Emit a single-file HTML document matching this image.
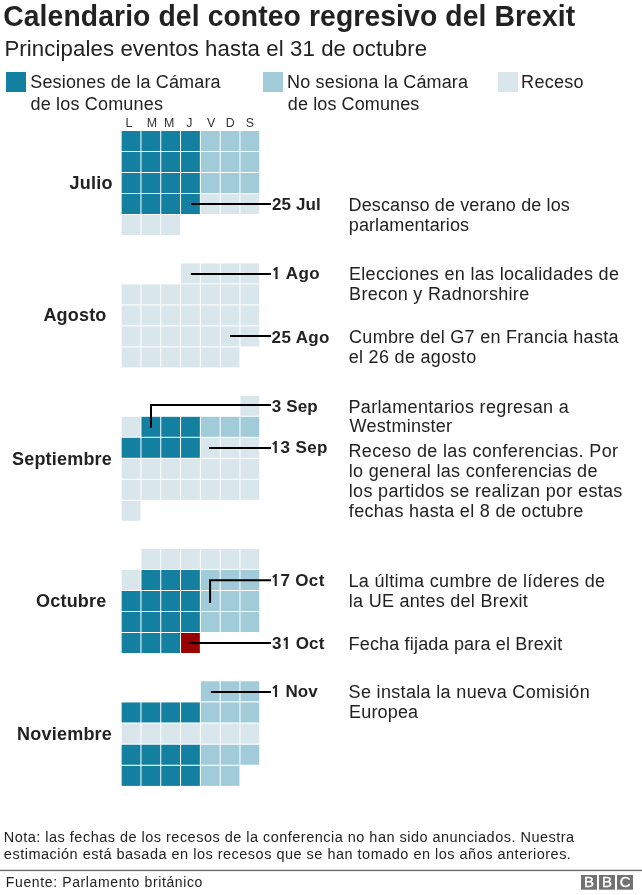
<!DOCTYPE html><html><head><meta charset="utf-8"><title>Calendario del conteo regresivo del Brexit</title><style>html,body{margin:0;padding:0;background:#fff;}svg{display:block;will-change:transform;}text{font-family:"Liberation Sans",Arial,Helvetica,sans-serif;}</style></head><body>
<svg width="642" height="895" viewBox="0 0 642 895">
<rect x="0" y="0" width="642" height="895" fill="#fff"/>
<rect x="6.00" y="72.00" width="20.00" height="20.00" fill="#1380a1"/>
<rect x="263.00" y="72.00" width="20.00" height="20.00" fill="#a1cbd9"/>
<rect x="498.00" y="72.00" width="20.00" height="20.00" fill="#d9e6eb"/>
<rect x="121.65" y="131.00" width="18.80" height="20.00" fill="#1380a1"/>
<rect x="141.45" y="131.00" width="18.80" height="20.00" fill="#1380a1"/>
<rect x="161.25" y="131.00" width="18.80" height="20.00" fill="#1380a1"/>
<rect x="181.05" y="131.00" width="18.80" height="20.00" fill="#1380a1"/>
<rect x="200.85" y="131.00" width="18.80" height="20.00" fill="#a1cbd9"/>
<rect x="220.65" y="131.00" width="18.80" height="20.00" fill="#a1cbd9"/>
<rect x="240.45" y="131.00" width="18.80" height="20.00" fill="#a1cbd9"/>
<rect x="121.65" y="152.00" width="18.80" height="20.00" fill="#1380a1"/>
<rect x="141.45" y="152.00" width="18.80" height="20.00" fill="#1380a1"/>
<rect x="161.25" y="152.00" width="18.80" height="20.00" fill="#1380a1"/>
<rect x="181.05" y="152.00" width="18.80" height="20.00" fill="#1380a1"/>
<rect x="200.85" y="152.00" width="18.80" height="20.00" fill="#a1cbd9"/>
<rect x="220.65" y="152.00" width="18.80" height="20.00" fill="#a1cbd9"/>
<rect x="240.45" y="152.00" width="18.80" height="20.00" fill="#a1cbd9"/>
<rect x="121.65" y="173.00" width="18.80" height="20.00" fill="#1380a1"/>
<rect x="141.45" y="173.00" width="18.80" height="20.00" fill="#1380a1"/>
<rect x="161.25" y="173.00" width="18.80" height="20.00" fill="#1380a1"/>
<rect x="181.05" y="173.00" width="18.80" height="20.00" fill="#1380a1"/>
<rect x="200.85" y="173.00" width="18.80" height="20.00" fill="#a1cbd9"/>
<rect x="220.65" y="173.00" width="18.80" height="20.00" fill="#a1cbd9"/>
<rect x="240.45" y="173.00" width="18.80" height="20.00" fill="#a1cbd9"/>
<rect x="121.65" y="194.00" width="18.80" height="20.00" fill="#1380a1"/>
<rect x="141.45" y="194.00" width="18.80" height="20.00" fill="#1380a1"/>
<rect x="161.25" y="194.00" width="18.80" height="20.00" fill="#1380a1"/>
<rect x="181.05" y="194.00" width="18.80" height="20.00" fill="#1380a1"/>
<rect x="200.85" y="194.00" width="18.80" height="20.00" fill="#d9e6eb"/>
<rect x="220.65" y="194.00" width="18.80" height="20.00" fill="#d9e6eb"/>
<rect x="240.45" y="194.00" width="18.80" height="20.00" fill="#d9e6eb"/>
<rect x="121.65" y="215.00" width="18.80" height="20.00" fill="#d9e6eb"/>
<rect x="141.45" y="215.00" width="18.80" height="20.00" fill="#d9e6eb"/>
<rect x="161.25" y="215.00" width="18.80" height="20.00" fill="#d9e6eb"/>
<rect x="181.05" y="263.40" width="18.80" height="20.00" fill="#d9e6eb"/>
<rect x="200.85" y="263.40" width="18.80" height="20.00" fill="#d9e6eb"/>
<rect x="220.65" y="263.40" width="18.80" height="20.00" fill="#d9e6eb"/>
<rect x="240.45" y="263.40" width="18.80" height="20.00" fill="#d9e6eb"/>
<rect x="121.65" y="284.40" width="18.80" height="20.00" fill="#d9e6eb"/>
<rect x="141.45" y="284.40" width="18.80" height="20.00" fill="#d9e6eb"/>
<rect x="161.25" y="284.40" width="18.80" height="20.00" fill="#d9e6eb"/>
<rect x="181.05" y="284.40" width="18.80" height="20.00" fill="#d9e6eb"/>
<rect x="200.85" y="284.40" width="18.80" height="20.00" fill="#d9e6eb"/>
<rect x="220.65" y="284.40" width="18.80" height="20.00" fill="#d9e6eb"/>
<rect x="240.45" y="284.40" width="18.80" height="20.00" fill="#d9e6eb"/>
<rect x="121.65" y="305.40" width="18.80" height="20.00" fill="#d9e6eb"/>
<rect x="141.45" y="305.40" width="18.80" height="20.00" fill="#d9e6eb"/>
<rect x="161.25" y="305.40" width="18.80" height="20.00" fill="#d9e6eb"/>
<rect x="181.05" y="305.40" width="18.80" height="20.00" fill="#d9e6eb"/>
<rect x="200.85" y="305.40" width="18.80" height="20.00" fill="#d9e6eb"/>
<rect x="220.65" y="305.40" width="18.80" height="20.00" fill="#d9e6eb"/>
<rect x="240.45" y="305.40" width="18.80" height="20.00" fill="#d9e6eb"/>
<rect x="121.65" y="326.40" width="18.80" height="20.00" fill="#d9e6eb"/>
<rect x="141.45" y="326.40" width="18.80" height="20.00" fill="#d9e6eb"/>
<rect x="161.25" y="326.40" width="18.80" height="20.00" fill="#d9e6eb"/>
<rect x="181.05" y="326.40" width="18.80" height="20.00" fill="#d9e6eb"/>
<rect x="200.85" y="326.40" width="18.80" height="20.00" fill="#d9e6eb"/>
<rect x="220.65" y="326.40" width="18.80" height="20.00" fill="#d9e6eb"/>
<rect x="240.45" y="326.40" width="18.80" height="20.00" fill="#d9e6eb"/>
<rect x="121.65" y="347.40" width="18.80" height="20.00" fill="#d9e6eb"/>
<rect x="141.45" y="347.40" width="18.80" height="20.00" fill="#d9e6eb"/>
<rect x="161.25" y="347.40" width="18.80" height="20.00" fill="#d9e6eb"/>
<rect x="181.05" y="347.40" width="18.80" height="20.00" fill="#d9e6eb"/>
<rect x="200.85" y="347.40" width="18.80" height="20.00" fill="#d9e6eb"/>
<rect x="220.65" y="347.40" width="18.80" height="20.00" fill="#d9e6eb"/>
<rect x="240.45" y="395.80" width="18.80" height="20.00" fill="#d9e6eb"/>
<rect x="121.65" y="416.80" width="18.80" height="20.00" fill="#d9e6eb"/>
<rect x="141.45" y="416.80" width="18.80" height="20.00" fill="#1380a1"/>
<rect x="161.25" y="416.80" width="18.80" height="20.00" fill="#1380a1"/>
<rect x="181.05" y="416.80" width="18.80" height="20.00" fill="#1380a1"/>
<rect x="200.85" y="416.80" width="18.80" height="20.00" fill="#a1cbd9"/>
<rect x="220.65" y="416.80" width="18.80" height="20.00" fill="#a1cbd9"/>
<rect x="240.45" y="416.80" width="18.80" height="20.00" fill="#a1cbd9"/>
<rect x="121.65" y="437.80" width="18.80" height="20.00" fill="#1380a1"/>
<rect x="141.45" y="437.80" width="18.80" height="20.00" fill="#1380a1"/>
<rect x="161.25" y="437.80" width="18.80" height="20.00" fill="#1380a1"/>
<rect x="181.05" y="437.80" width="18.80" height="20.00" fill="#1380a1"/>
<rect x="200.85" y="437.80" width="18.80" height="20.00" fill="#d9e6eb"/>
<rect x="220.65" y="437.80" width="18.80" height="20.00" fill="#d9e6eb"/>
<rect x="240.45" y="437.80" width="18.80" height="20.00" fill="#d9e6eb"/>
<rect x="121.65" y="458.80" width="18.80" height="20.00" fill="#d9e6eb"/>
<rect x="141.45" y="458.80" width="18.80" height="20.00" fill="#d9e6eb"/>
<rect x="161.25" y="458.80" width="18.80" height="20.00" fill="#d9e6eb"/>
<rect x="181.05" y="458.80" width="18.80" height="20.00" fill="#d9e6eb"/>
<rect x="200.85" y="458.80" width="18.80" height="20.00" fill="#d9e6eb"/>
<rect x="220.65" y="458.80" width="18.80" height="20.00" fill="#d9e6eb"/>
<rect x="240.45" y="458.80" width="18.80" height="20.00" fill="#d9e6eb"/>
<rect x="121.65" y="479.80" width="18.80" height="20.00" fill="#d9e6eb"/>
<rect x="141.45" y="479.80" width="18.80" height="20.00" fill="#d9e6eb"/>
<rect x="161.25" y="479.80" width="18.80" height="20.00" fill="#d9e6eb"/>
<rect x="181.05" y="479.80" width="18.80" height="20.00" fill="#d9e6eb"/>
<rect x="200.85" y="479.80" width="18.80" height="20.00" fill="#d9e6eb"/>
<rect x="220.65" y="479.80" width="18.80" height="20.00" fill="#d9e6eb"/>
<rect x="240.45" y="479.80" width="18.80" height="20.00" fill="#d9e6eb"/>
<rect x="121.65" y="500.80" width="18.80" height="20.00" fill="#d9e6eb"/>
<rect x="141.45" y="549.00" width="18.80" height="20.00" fill="#d9e6eb"/>
<rect x="161.25" y="549.00" width="18.80" height="20.00" fill="#d9e6eb"/>
<rect x="181.05" y="549.00" width="18.80" height="20.00" fill="#d9e6eb"/>
<rect x="200.85" y="549.00" width="18.80" height="20.00" fill="#d9e6eb"/>
<rect x="220.65" y="549.00" width="18.80" height="20.00" fill="#d9e6eb"/>
<rect x="240.45" y="549.00" width="18.80" height="20.00" fill="#d9e6eb"/>
<rect x="121.65" y="570.00" width="18.80" height="20.00" fill="#d9e6eb"/>
<rect x="141.45" y="570.00" width="18.80" height="20.00" fill="#1380a1"/>
<rect x="161.25" y="570.00" width="18.80" height="20.00" fill="#1380a1"/>
<rect x="181.05" y="570.00" width="18.80" height="20.00" fill="#1380a1"/>
<rect x="200.85" y="570.00" width="18.80" height="20.00" fill="#a1cbd9"/>
<rect x="220.65" y="570.00" width="18.80" height="20.00" fill="#a1cbd9"/>
<rect x="240.45" y="570.00" width="18.80" height="20.00" fill="#a1cbd9"/>
<rect x="121.65" y="591.00" width="18.80" height="20.00" fill="#1380a1"/>
<rect x="141.45" y="591.00" width="18.80" height="20.00" fill="#1380a1"/>
<rect x="161.25" y="591.00" width="18.80" height="20.00" fill="#1380a1"/>
<rect x="181.05" y="591.00" width="18.80" height="20.00" fill="#1380a1"/>
<rect x="200.85" y="591.00" width="18.80" height="20.00" fill="#a1cbd9"/>
<rect x="220.65" y="591.00" width="18.80" height="20.00" fill="#a1cbd9"/>
<rect x="240.45" y="591.00" width="18.80" height="20.00" fill="#a1cbd9"/>
<rect x="121.65" y="612.00" width="18.80" height="20.00" fill="#1380a1"/>
<rect x="141.45" y="612.00" width="18.80" height="20.00" fill="#1380a1"/>
<rect x="161.25" y="612.00" width="18.80" height="20.00" fill="#1380a1"/>
<rect x="181.05" y="612.00" width="18.80" height="20.00" fill="#1380a1"/>
<rect x="200.85" y="612.00" width="18.80" height="20.00" fill="#a1cbd9"/>
<rect x="220.65" y="612.00" width="18.80" height="20.00" fill="#a1cbd9"/>
<rect x="240.45" y="612.00" width="18.80" height="20.00" fill="#a1cbd9"/>
<rect x="121.65" y="633.00" width="18.80" height="20.00" fill="#1380a1"/>
<rect x="141.45" y="633.00" width="18.80" height="20.00" fill="#1380a1"/>
<rect x="161.25" y="633.00" width="18.80" height="20.00" fill="#1380a1"/>
<rect x="181.05" y="633.00" width="18.80" height="20.00" fill="#990000"/>
<rect x="200.85" y="681.30" width="18.80" height="20.00" fill="#a1cbd9"/>
<rect x="220.65" y="681.30" width="18.80" height="20.00" fill="#a1cbd9"/>
<rect x="240.45" y="681.30" width="18.80" height="20.00" fill="#a1cbd9"/>
<rect x="121.65" y="702.45" width="18.80" height="20.00" fill="#1380a1"/>
<rect x="141.45" y="702.45" width="18.80" height="20.00" fill="#1380a1"/>
<rect x="161.25" y="702.45" width="18.80" height="20.00" fill="#1380a1"/>
<rect x="181.05" y="702.45" width="18.80" height="20.00" fill="#1380a1"/>
<rect x="200.85" y="702.45" width="18.80" height="20.00" fill="#a1cbd9"/>
<rect x="220.65" y="702.45" width="18.80" height="20.00" fill="#a1cbd9"/>
<rect x="240.45" y="702.45" width="18.80" height="20.00" fill="#a1cbd9"/>
<rect x="121.65" y="723.60" width="18.80" height="20.00" fill="#d9e6eb"/>
<rect x="141.45" y="723.60" width="18.80" height="20.00" fill="#d9e6eb"/>
<rect x="161.25" y="723.60" width="18.80" height="20.00" fill="#d9e6eb"/>
<rect x="181.05" y="723.60" width="18.80" height="20.00" fill="#d9e6eb"/>
<rect x="200.85" y="723.60" width="18.80" height="20.00" fill="#d9e6eb"/>
<rect x="220.65" y="723.60" width="18.80" height="20.00" fill="#d9e6eb"/>
<rect x="240.45" y="723.60" width="18.80" height="20.00" fill="#d9e6eb"/>
<rect x="121.65" y="744.75" width="18.80" height="20.00" fill="#1380a1"/>
<rect x="141.45" y="744.75" width="18.80" height="20.00" fill="#1380a1"/>
<rect x="161.25" y="744.75" width="18.80" height="20.00" fill="#1380a1"/>
<rect x="181.05" y="744.75" width="18.80" height="20.00" fill="#1380a1"/>
<rect x="200.85" y="744.75" width="18.80" height="20.00" fill="#a1cbd9"/>
<rect x="220.65" y="744.75" width="18.80" height="20.00" fill="#a1cbd9"/>
<rect x="240.45" y="744.75" width="18.80" height="20.00" fill="#a1cbd9"/>
<rect x="121.65" y="765.90" width="18.80" height="20.00" fill="#1380a1"/>
<rect x="141.45" y="765.90" width="18.80" height="20.00" fill="#1380a1"/>
<rect x="161.25" y="765.90" width="18.80" height="20.00" fill="#1380a1"/>
<rect x="181.05" y="765.90" width="18.80" height="20.00" fill="#1380a1"/>
<rect x="200.85" y="765.90" width="18.80" height="20.00" fill="#a1cbd9"/>
<rect x="220.65" y="765.90" width="18.80" height="20.00" fill="#a1cbd9"/>
<polyline points="191.00,203.90 271.00,203.90" fill="none" stroke="#000000" stroke-width="2.00" stroke-linejoin="miter"/>
<polyline points="190.80,274.00 271.00,274.00" fill="none" stroke="#000000" stroke-width="2.00" stroke-linejoin="miter"/>
<polyline points="229.85,335.95 271.00,335.95" fill="none" stroke="#000000" stroke-width="2.00" stroke-linejoin="miter"/>
<polyline points="151.00,427.80 151.00,405.10 271.00,405.10" fill="none" stroke="#000000" stroke-width="2.00" stroke-linejoin="miter"/>
<polyline points="208.90,448.00 271.00,448.00" fill="none" stroke="#000000" stroke-width="2.00" stroke-linejoin="miter"/>
<polyline points="210.10,603.00 210.10,580.20 271.00,580.20" fill="none" stroke="#000000" stroke-width="2.00" stroke-linejoin="miter"/>
<polyline points="188.90,642.90 271.00,642.90" fill="none" stroke="#000000" stroke-width="2.00" stroke-linejoin="miter"/>
<polyline points="210.90,691.90 271.00,691.90" fill="none" stroke="#000000" stroke-width="2.00" stroke-linejoin="miter"/>
<text x="3.24" y="25.70" font-size="28.30" font-weight="bold" fill="#222222" textLength="571.91" lengthAdjust="spacing" transform="matrix(1,0,0,1.0450,0,-1.156)">Calendario del conteo regresivo del Brexit</text>
<text x="4.38" y="56.20" font-size="22.20" fill="#222222" textLength="422.61" lengthAdjust="spacing">Principales eventos hasta el 31 de octubre</text>
<text x="30.28" y="87.80" font-size="18.00" fill="#222222" textLength="190.32" lengthAdjust="spacing">Sesiones de la Cámara</text>
<text x="30.44" y="109.70" font-size="18.00" fill="#222222" textLength="132.51" lengthAdjust="spacing">de los Comunes</text>
<text x="287.12" y="87.80" font-size="18.00" fill="#222222" textLength="180.88" lengthAdjust="spacing">No sesiona la Cámara</text>
<text x="287.84" y="109.70" font-size="18.00" fill="#222222" textLength="131.41" lengthAdjust="spacing">de los Comunes</text>
<text x="521.12" y="87.80" font-size="18.00" fill="#222222" textLength="62.43" lengthAdjust="spacing">Receso</text>
<text x="69.53" y="189.30" font-size="18.00" font-weight="bold" fill="#222222" textLength="43.08" lengthAdjust="spacing">Julio</text>
<text x="43.45" y="321.20" font-size="18.00" font-weight="bold" fill="#222222" textLength="62.85" lengthAdjust="spacing">Agosto</text>
<text x="11.98" y="464.70" font-size="18.00" font-weight="bold" fill="#222222" textLength="99.83" lengthAdjust="spacing">Septiembre</text>
<text x="36.06" y="607.00" font-size="18.00" font-weight="bold" fill="#222222" textLength="70.15" lengthAdjust="spacing">Octubre</text>
<text x="17.10" y="739.70" font-size="18.00" font-weight="bold" fill="#222222" textLength="94.72" lengthAdjust="spacing">Noviembre</text>
<text x="271.91" y="209.90" font-size="17.00" font-weight="bold" fill="#222222" textLength="48.89" lengthAdjust="spacing">25 Jul</text>
<text x="271.52" y="279.10" font-size="17.00" font-weight="bold" fill="#222222" textLength="48.05" lengthAdjust="spacing"><tspan font-family="NanumGothic, &apos;Liberation Sans&apos;, sans-serif" font-weight="800" font-size="15.45">1</tspan> Ago</text>
<text x="271.61" y="342.80" font-size="17.00" font-weight="bold" fill="#222222" textLength="57.85" lengthAdjust="spacing">25 Ago</text>
<text x="271.71" y="411.80" font-size="17.00" font-weight="bold" fill="#222222" textLength="45.99" lengthAdjust="spacing">3 Sep</text>
<text x="270.72" y="453.30" font-size="17.00" font-weight="bold" fill="#222222" textLength="56.68" lengthAdjust="spacing"><tspan font-family="NanumGothic, &apos;Liberation Sans&apos;, sans-serif" font-weight="800" font-size="15.45">1</tspan>3 Sep</text>
<text x="270.72" y="585.90" font-size="17.00" font-weight="bold" fill="#222222" textLength="53.59" lengthAdjust="spacing"><tspan font-family="NanumGothic, &apos;Liberation Sans&apos;, sans-serif" font-weight="800" font-size="15.45">1</tspan>7 Oct</text>
<text x="272.11" y="648.60" font-size="17.00" font-weight="bold" fill="#222222" textLength="52.20" lengthAdjust="spacing">3<tspan font-family="NanumGothic, &apos;Liberation Sans&apos;, sans-serif" font-weight="800" font-size="15.45">1</tspan> Oct</text>
<text x="271.12" y="697.10" font-size="17.00" font-weight="bold" fill="#222222" textLength="46.56" lengthAdjust="spacing"><tspan font-family="NanumGothic, &apos;Liberation Sans&apos;, sans-serif" font-weight="800" font-size="15.45">1</tspan> Nov</text>
<text x="348.52" y="210.60" font-size="18.00" fill="#222222" textLength="221.33" lengthAdjust="spacing">Descanso de verano de los</text>
<text x="348.84" y="230.50" font-size="18.00" fill="#222222" textLength="120.21" lengthAdjust="spacing">parlamentarios</text>
<text x="348.92" y="279.90" font-size="18.00" fill="#222222" textLength="269.98" lengthAdjust="spacing">Elecciones en las localidades de</text>
<text x="349.12" y="300.10" font-size="18.00" fill="#222222" textLength="180.08" lengthAdjust="spacing">Brecon y Radnorshire</text>
<text x="349.09" y="342.90" font-size="18.00" fill="#222222" textLength="269.41" lengthAdjust="spacing">Cumbre del G7 en Francia hasta</text>
<text x="348.64" y="363.10" font-size="18.00" fill="#222222" textLength="127.52" lengthAdjust="spacing">el 26 de agosto</text>
<text x="348.52" y="412.60" font-size="18.00" fill="#222222" textLength="220.18" lengthAdjust="spacing">Parlamentarios regresan a</text>
<text x="349.62" y="432.30" font-size="18.00" fill="#222222" textLength="102.38" lengthAdjust="spacing">Westminster</text>
<text x="348.52" y="456.70" font-size="18.00" fill="#222222" textLength="269.48" lengthAdjust="spacing">Receso de las conferencias. Por</text>
<text x="348.79" y="477.20" font-size="18.00" fill="#222222" textLength="248.61" lengthAdjust="spacing">lo general las conferencias de</text>
<text x="348.79" y="496.60" font-size="18.00" fill="#222222" textLength="273.56" lengthAdjust="spacing">los partidos se realizan por estas</text>
<text x="348.85" y="517.10" font-size="18.00" fill="#222222" textLength="234.35" lengthAdjust="spacing">fechas hasta el 8 de octubre</text>
<text x="348.52" y="586.50" font-size="18.00" fill="#222222" textLength="256.48" lengthAdjust="spacing">La última cumbre de líderes de</text>
<text x="348.79" y="606.50" font-size="18.00" fill="#222222" textLength="179.04" lengthAdjust="spacing">la UE antes del Brexit</text>
<text x="348.52" y="650.30" font-size="18.00" fill="#222222" textLength="213.71" lengthAdjust="spacing">Fecha fijada para el Brexit</text>
<text x="348.58" y="698.10" font-size="18.00" fill="#222222" textLength="241.09" lengthAdjust="spacing">Se instala la nueva Comisión</text>
<text x="349.12" y="717.60" font-size="18.00" fill="#222222" textLength="68.98" lengthAdjust="spacing">Europea</text>
<text x="3.81" y="841.90" font-size="14.50" fill="#222222" textLength="570.29" lengthAdjust="spacing" transform="matrix(1,0,0,1.0500,0,-42.095)">Nota: las fechas de los recesos de la conferencia no han sido anunciados. Nuestra</text>
<text x="3.88" y="859.10" font-size="14.50" fill="#222222" textLength="567.04" lengthAdjust="spacing" transform="matrix(1,0,0,1.0500,0,-42.955)">estimación está basada en los recesos que se han tomado en los años anteriores.</text>
<text x="5.85" y="886.80" font-size="14.00" fill="#222222" textLength="196.54" lengthAdjust="spacing" transform="matrix(1,0,0,1.0900,0,-79.812)">Fuente: Parlamento británico</text>
<text x="125.48" y="126.80" font-size="12.40" fill="#333333">L</text>
<text x="146.68" y="126.80" font-size="12.40" fill="#333333">M</text>
<text x="164.08" y="126.80" font-size="12.40" fill="#333333">M</text>
<text x="186.21" y="126.80" font-size="12.40" fill="#333333">J</text>
<text x="206.95" y="126.80" font-size="12.40" fill="#333333">V</text>
<text x="225.78" y="126.80" font-size="12.40" fill="#333333">D</text>
<text x="245.74" y="126.80" font-size="12.40" fill="#333333">S</text>
<rect x="0" y="869.80" width="642" height="1.30" fill="#666666"/>
<rect x="581.00" y="875.00" width="16.00" height="14.70" fill="#717171"/>
<rect x="599.00" y="875.00" width="16.00" height="14.70" fill="#717171"/>
<rect x="617.00" y="875.00" width="16.00" height="14.70" fill="#717171"/>
<text x="589.10" y="887.40" font-size="15.00" fill="#fff" stroke="#fff" stroke-width="0.35" text-anchor="middle">B</text>
<text x="607.10" y="887.40" font-size="15.00" fill="#fff" stroke="#fff" stroke-width="0.35" text-anchor="middle">B</text>
<text x="625.10" y="887.40" font-size="15.00" fill="#fff" stroke="#fff" stroke-width="0.35" text-anchor="middle">C</text>
</svg></body></html>
